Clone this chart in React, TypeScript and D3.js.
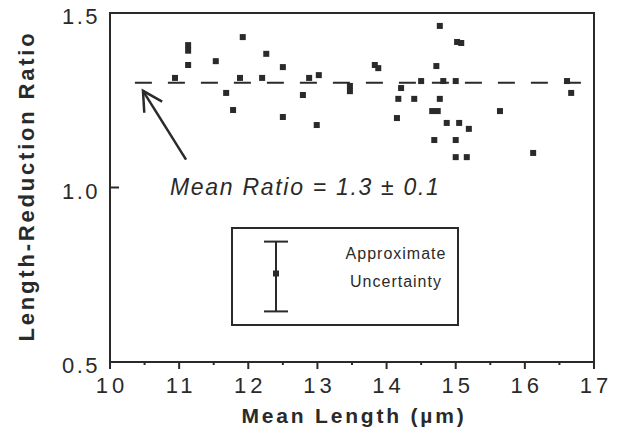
import React from "react";
import * as d3 from "d3";

// ---- data ----
const meanLengths = [10.94, 11.13, 11.13, 11.13, 11.53, 11.68, 11.78, 11.92, 11.88, 12.2, 12.26, 12.5, 12.5, 12.79, 12.88, 13.02, 12.99, 13.47, 13.47, 13.83, 13.88, 14.21, 14.17, 14.15, 14.4, 14.5, 14.77, 14.72, 14.82, 15.0, 14.77, 14.66, 14.74, 15.02, 15.08, 14.87, 15.05, 15.19, 14.69, 15.0, 15.0, 15.16, 15.64, 16.12, 16.61, 16.67];
const reductionRatios = [1.314, 1.408, 1.392, 1.351, 1.362, 1.271, 1.222, 1.431, 1.314, 1.314, 1.383, 1.345, 1.202, 1.265, 1.314, 1.322, 1.179, 1.291, 1.276, 1.351, 1.342, 1.285, 1.254, 1.199, 1.254, 1.305, 1.463, 1.348, 1.305, 1.305, 1.254, 1.219, 1.219, 1.417, 1.414, 1.185, 1.185, 1.168, 1.136, 1.136, 1.087, 1.087, 1.219, 1.099, 1.305, 1.271];
const xTickValues = [10, 11, 12, 13, 14, 15, 16, 17];
const xMinorTicks = [10.5, 11.5, 12.5, 13.5, 14.5, 15.5, 16.5];
const yTickValues = [0.5, 1.0, 1.5];
const yTickLabels = ["0.5", "1.0", "1.5"];
const meanRatio = 1.3;
const meanLineExtent = [10.36, 16.85];
const uncertainty = 0.1;
const arrowTip = [10.477, 1.277];
const arrowTail = [11.1, 1.08];
const meanLabel = "Mean Ratio = 1.3 \u00b1 0.1";
const xTitle = "Mean Length (\u00b5m)";
const yTitle = "Length-Reduction Ratio";
const legendLines = ["Approximate", "Uncertainty"];

const W = 626;
const H = 446;
const INK = "#2a2a2a";

export default function App() {
  const x = d3.scaleLinear().domain([10, 17]).range([110, 594]);
  const y = d3.scaleLinear().domain([0.5, 1.5]).range([362, 13]);
  const [x0, x1] = x.range();
  const [yb, yt] = y.range();

  // arrow geometry
  const tx = x(arrowTip[0]), ty = y(arrowTip[1]);
  const sx = x(arrowTail[0]), sy = y(arrowTail[1]);
  const ang = Math.atan2(sy - ty, sx - tx);
  const headLen = 22;
  const h1 = [tx + headLen * Math.cos(ang - 0.5), ty + headLen * Math.sin(ang - 0.5)];
  const h2 = [tx + headLen * Math.cos(ang + 0.5), ty + headLen * Math.sin(ang + 0.5)];

  // legend box
  const box = { x: 232, y: 228, w: 226, h: 97 };
  const ebX = 276;
  const ebC = box.y + box.h / 2;
  const ebHalf = Math.abs(y(1 + uncertainty) - y(1));

  const sq = 6;
  const font = "'Liberation Sans', Arial, Helvetica, sans-serif";

  return (
    <svg width={W} height={H} style={{ position: "absolute", left: 0, top: 0, background: "#fff" }} fontFamily={font}>
      <rect x={0} y={0} width={W} height={H} fill="#fff" />
      {/* frame */}
      <rect x={x0} y={yt} width={x1 - x0} height={yb - yt} fill="none" stroke={INK} strokeWidth={2} />
      {/* x ticks */}
      {xTickValues.map((v) => (
        <line key={"xt" + v} x1={x(v)} x2={x(v)} y1={yb} y2={yb + 7} stroke={INK} strokeWidth={2} />
      ))}
      {xMinorTicks.map((v) => (
        <line key={"xm" + v} x1={x(v)} x2={x(v)} y1={yb} y2={yb + 3} stroke={INK} strokeWidth={2} />
      ))}
      {xTickValues.map((v) => (
        <text key={"xl" + v} x={x(v) + 2} y={yb + 31} textAnchor="middle" fontSize={22} letterSpacing={4} fill={INK}>
          {String(v)}
        </text>
      ))}
      {/* y ticks */}
      {yTickValues.map((v) => (
        <line key={"yt" + v} x1={x0} x2={x0 + 9} y1={y(v)} y2={y(v)} stroke={INK} strokeWidth={2} />
      ))}
      {yTickValues.map((v, i) => (
        <text key={"yl" + v} x={x0 - 10} y={y(v) + 11} textAnchor="end" fontSize={22} letterSpacing={2.5} fill={INK}>
          {yTickLabels[i]}
        </text>
      ))}
      {/* titles */}
      <text x={354} y={423} textAnchor="middle" fontSize={21} fontWeight="bold" letterSpacing={2.8} fill={INK}>
        {xTitle}
      </text>
      <text
        transform={`translate(34, 186) rotate(-90)`}
        textAnchor="middle"
        fontSize={22}
        fontWeight="bold"
        letterSpacing={2.8}
        fill={INK}
      >
        {yTitle}
      </text>
      {/* mean line */}
      <line
        x1={x(meanLineExtent[0])}
        x2={x(meanLineExtent[1])}
        y1={y(meanRatio)}
        y2={y(meanRatio)}
        stroke={INK}
        strokeWidth={2}
        strokeDasharray="17 16"
      />
      {/* points */}
      {meanLengths.map((v, i) => (
        <rect key={"p" + i} x={x(v) - sq / 2} y={y(reductionRatios[i]) - sq / 2} width={sq} height={sq} fill={INK} />
      ))}
      {/* arrow */}
      <line x1={sx} y1={sy} x2={tx} y2={ty} stroke={INK} strokeWidth={2.5} />
      <polyline points={`${h1[0]},${h1[1]} ${tx},${ty} ${h2[0]},${h2[1]}`} fill="none" stroke={INK} strokeWidth={2.5} />
      <text x={170} y={195} fontSize={23} fontStyle="italic" letterSpacing={1.7} fill={INK}>
        {meanLabel}
      </text>
      {/* legend */}
      <rect x={box.x} y={box.y} width={box.w} height={box.h} fill="none" stroke={INK} strokeWidth={2} />
      <line x1={ebX} x2={ebX} y1={ebC - ebHalf} y2={ebC + ebHalf} stroke={INK} strokeWidth={2} />
      <line x1={ebX - 12} x2={ebX + 12} y1={ebC - ebHalf} y2={ebC - ebHalf} stroke={INK} strokeWidth={2} />
      <line x1={ebX - 12} x2={ebX + 12} y1={ebC + ebHalf} y2={ebC + ebHalf} stroke={INK} strokeWidth={2} />
      <rect x={ebX - 3} y={ebC - 6} width={6} height={6} fill={INK} />
      {legendLines.map((t, i) => (
        <text key={t} x={396} y={259 + i * 28} textAnchor="middle" fontSize={16} letterSpacing={1} fill={INK}>
          {t}
        </text>
      ))}
    </svg>
  );
}
